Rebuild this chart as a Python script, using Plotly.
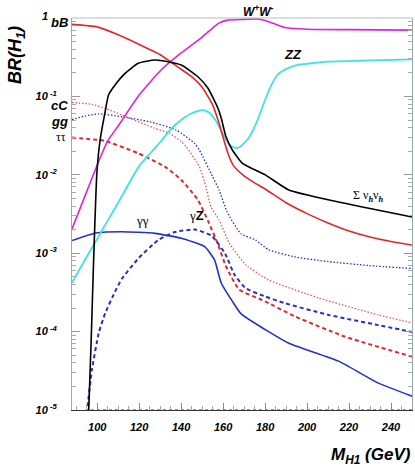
import plotly.graph_objects as go

# ---------------- data ----------------
m_bb = [88, 100, 110, 120, 130, 140, 145, 150, 155, 158, 160, 162.4, 165, 170, 175, 180, 190, 200, 210, 220, 230, 240, 250]
br_bb = [0.83, 0.77, 0.61, 0.46, 0.34, 0.222, 0.179, 0.131, 0.078, 0.046, 0.030, 0.0184, 0.0130, 0.0097, 0.0079, 0.0066, 0.0044, 0.0032, 0.00243, 0.00192, 0.00161, 0.00141, 0.00127]

m_nn = [95.9, 97.1, 98.3, 99.85, 101.4, 103.8, 105.4, 108.5, 113.3, 119.6, 127.5, 133.8, 140.1, 148, 152.8, 157.5, 159.1, 161.3, 164.4, 169.2, 180.3, 191.3, 215, 250]
br_nn = [9e-6, 7.2e-5, 8.2e-4, 0.0105, 0.0278, 0.064, 0.104, 0.14, 0.197, 0.264, 0.291, 0.277, 0.251, 0.178, 0.127, 0.071, 0.053, 0.031, 0.0207, 0.014, 0.0099, 0.0064, 0.0045, 0.0029]

m_ww = [88, 95, 100, 105, 110, 120, 130, 140, 150, 155, 158, 162, 170, 176, 180, 185, 190, 200, 220, 250]
br_ww = [0.00204, 0.0061, 0.0133, 0.027, 0.042, 0.104, 0.211, 0.358, 0.57, 0.745, 0.86, 0.94, 0.96, 0.97, 0.93, 0.83, 0.75, 0.72, 0.71, 0.70]

m_zz = [88, 95, 100, 105, 110, 120, 130, 135, 140, 145, 150, 153, 156, 160, 163, 166, 168, 172, 176, 180, 183, 186, 190, 195, 210, 225, 250]
br_zz = [0.00042, 0.00090, 0.00152, 0.0026, 0.0044, 0.0129, 0.026, 0.038, 0.050, 0.061, 0.067, 0.063, 0.0515, 0.033, 0.024, 0.022, 0.0226, 0.029, 0.047, 0.090, 0.14, 0.19, 0.223, 0.25, 0.277, 0.285, 0.297]

m_cc = [88, 97.5, 103.8, 111.7, 127.5, 134.4, 140.1, 142.4, 148.7, 151.8, 154.2, 158.1, 162.9, 170.8, 181.8, 205.5, 234, 250]
br_cc = [0.0836, 0.0793, 0.0705, 0.0579, 0.0392, 0.0338, 0.0264, 0.0228, 0.0127, 0.0070, 0.0039, 0.00265, 0.00135, 0.00071, 0.000455, 0.000269, 0.000163, 0.000129]

m_gg = [88, 94.2, 100.7, 111.7, 125, 137.6, 146.4, 148.7, 155, 158.1, 161.9, 168.4, 175.5, 181.8, 194.5, 210.3, 229.2, 250]
br_gg = [0.0507, 0.0562, 0.0597, 0.0551, 0.0475, 0.0373, 0.0252, 0.0207, 0.00946, 0.0064, 0.00336, 0.00178, 0.00147, 0.0011, 0.000895, 0.00078, 0.000697, 0.000638]

m_tt = [88, 100.7, 103.8, 119.6, 132.2, 140.1, 148, 152.8, 157.5, 161.3, 167.6, 178.7, 194.5, 218.2, 250]
br_tt = [0.0299, 0.0278, 0.027, 0.0188, 0.0127, 0.0086, 0.00477, 0.00258, 0.00131, 0.000687, 0.000344, 0.000253, 0.000155, 8.6e-5, 4.8e-5]

m_gz = [95.0, 97.5, 100.7, 103.8, 108.5, 111.7, 119.6, 129.1, 137, 146.8, 154.6, 161, 165.5, 170.8, 179.5, 189, 210.3, 234, 250]
br_gz = [9e-6, 3.24e-5, 9.5e-5, 0.000171, 0.000323, 0.000469, 0.000856, 0.00147, 0.00186, 0.0020, 0.00166, 0.00098, 0.000527, 0.000357, 0.000284, 0.000232, 0.000163, 0.000121, 9.9e-5]

m_ga = [88, 99.4, 111.7, 127.5, 140.1, 151.2, 155.9, 159.1, 164.6, 168.6, 180.3, 191.3, 215, 234, 250]
br_ga = [0.00145, 0.00181, 0.00188, 0.00179, 0.00155, 0.00121, 0.00082, 0.000417, 0.000239, 0.000168, 0.000105, 7.1e-5, 4.2e-5, 2.2e-5, 1.5e-5]

m_green = [97, 250]
br_green = [1e-5, 1e-5]

x_ticks = [100, 120, 140, 160, 180, 200, 220, 240]
y_ticks = [1e-5, 1e-4, 1e-3, 1e-2, 1e-1]
y_ticktext = ["10<sup> -5</sup>", "10<sup> -4</sup>", "10<sup> -3</sup>", "10<sup> -2</sup>",
              "10<sup> -1</sup>"]

# ---------------- styles ----------------
RED = "#e3262a"
RED_L = "#e05a5a"
MAG = "#dd22dd"
CYAN = "#3fe3e3"
BLUE = "#2630c8"
GREEN = "#55c455"

fig = go.Figure()

def add(x, y, color, width=1.6, dash="solid"):
    fig.add_trace(go.Scatter(x=x, y=y, mode="lines",
                             line=dict(color=color, width=width, dash=dash, shape="spline", smoothing=0.5),
                             showlegend=False, hoverinfo="skip"))

add(m_green, br_green, GREEN, 2, "3px,3px")
add(m_cc, br_cc, RED_L, 1.3, "1.5px,1.8px")
add(m_gg, br_gg, BLUE, 1.3, "1.5px,1.8px")
add(m_tt, br_tt, RED, 2, "4px,3px")
add(m_gz, br_gz, BLUE, 2, "4px,3px")
add(m_ga, br_ga, BLUE, 1.6)
add(m_zz, br_zz, CYAN, 1.8)
add(m_ww, br_ww, MAG, 1.6)
add(m_bb, br_bb, RED, 1.6)
add(m_nn, br_nn, "black", 1.6)

SANS = "Liberation Sans"
SERIF = "Liberation Serif"
tickfont = dict(family=SANS, size=11, color="black", weight="bold", style="italic")

fig.update_layout(
    width=415, height=469,
    margin=dict(l=72, r=3, t=18, b=59),
    paper_bgcolor="white", plot_bgcolor="white",
    xaxis=dict(range=[88, 250], tickvals=x_ticks, ticks="inside", ticklen=7,
               tickcolor="#888", showline=True, linecolor="#333", linewidth=1,
               showgrid=False, zeroline=False, tickfont=tickfont, ticklabelstandoff=7,
               minor=dict(dtick=5, ticks="inside", ticklen=4, tickcolor="#aaa")),
    yaxis=dict(type="log", range=[-5, 0], tickvals=y_ticks, ticktext=y_ticktext,
               ticks="inside", ticklen=8, tickcolor="#999", showline=True,
               linecolor="#9aabab", linewidth=1, mirror="allticks",
               showgrid=False, zeroline=False, tickfont=tickfont, ticklabelstandoff=12,
               minor=dict(ticks="inside", ticklen=4, tickcolor="#aaa", dtick="D1")),
    shapes=[dict(type="line", xref="paper", yref="paper", x0=0, x1=1, y0=1, y1=1,
                 line=dict(color="#bbbbbb", width=1))],
)

def px2paper(xp, yp):
    return (xp - 72) / 340.0, (410 - yp) / 392.0

def ann(text, xp, yp, size=13, family=SANS, bold=True, italic=True, xanchor="center", angle=0):
    x, y = px2paper(xp, yp)
    fig.add_annotation(text=text, x=x, y=y, xref="paper", yref="paper", showarrow=False,
                       xanchor=xanchor, yanchor="middle", textangle=angle,
                       font=dict(family=family, size=size, color="black",
                                 weight="bold" if bold else "normal",
                                 style="italic" if italic else "normal"))

ann("1", 50, 16, 11, xanchor="right")
ann("bB", 70, 22, 13, xanchor="right")
ann("cC", 70, 105, 13, xanchor="right")
ann("gg", 70, 122, 13, xanchor="right")
ann("\u03c4\u03c4", 68, 137, 12, family=SERIF, bold=False, italic=False, xanchor="right")
ann("W<sup>+</sup>W<sup>-</sup>", 258, 11, 12)
ann("ZZ", 293, 54, 13)
ann("\u03a3 \u03bd<sub><b><i>h</i></b></sub>\u03bd<sub><b><i>h</i></b></sub>", 368, 196, 12,
    family=SERIF, bold=False, italic=False)
ann("\u03b3\u03b3", 142, 220, 13, family=SERIF, bold=False, italic=False)
ann("\u03b3<span style='font-family:Liberation Sans'><b>Z</b></span>", 196, 216, 13,
    family=SERIF, bold=False, italic=False)
ann("BR(H<sub>1</sub>)", 17, 55, 18, angle=-90)
ann("M<sub>H1</sub> (GeV)", 413, 456, 17, xanchor="right")

fig.write_html("out.html")
